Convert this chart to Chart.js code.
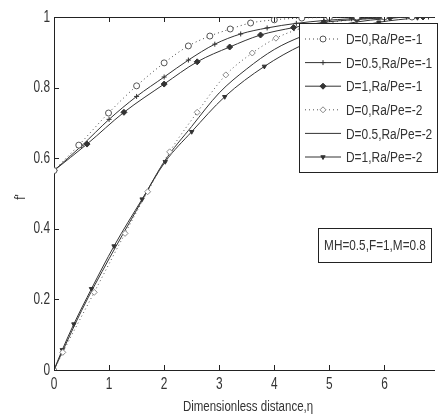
<!DOCTYPE html>
<html>
<head>
<meta charset="utf-8">
<script src="https://cdn.jsdelivr.net/npm/chart.js@4"></script>
<style>
  html, body { margin: 0; background: #fff; }
</style>
</head>
<body>
<canvas id="chart" width="439" height="416"></canvas>
<script>
// values
const labels = ["D=0,Ra/Pe=-1", "D=0.5,Ra/Pe=-1", "D=1,Ra/Pe=-1", "D=0,Ra/Pe=-2", "D=0.5,Ra/Pe=-2", "D=1,Ra/Pe=-2"];

const etaA = [0, 0.45, 0.99, 1.5, 2.0, 2.44, 2.83, 3.2, 3.57, 4.0, 4.5, 5.0, 5.5, 6.0, 6.5];
const fA   = [0.565, 0.637, 0.728, 0.805, 0.87, 0.918, 0.946, 0.966, 0.983, 0.992, 0.997, 0.999, 1.0, 1.0, 1.0];

const etaB = [0, 0.5, 1.0, 1.5, 2.0, 2.44, 2.92, 3.39, 3.87, 4.4, 4.9, 5.4, 5.9, 6.4, 6.8];
const fB   = [0.565, 0.635, 0.71, 0.775, 0.83, 0.878, 0.923, 0.952, 0.969, 0.982, 0.99, 0.995, 0.998, 1.0, 1.0];

const etaC = [0, 0.6, 1.27, 2.0, 2.6, 3.19, 3.75, 4.35, 4.9, 5.5, 6.1, 6.7];
const fC   = [0.565, 0.64, 0.73, 0.81, 0.873, 0.915, 0.949, 0.97, 0.985, 0.993, 0.998, 1.0];

const etaD = [0, 0.16, 0.73, 1.29, 1.7, 2.1, 2.6, 3.12, 3.6, 4.03, 4.5, 5.0, 5.5, 6.0, 6.5];
const fD   = [0, 0.05, 0.22, 0.387, 0.505, 0.618, 0.73, 0.836, 0.898, 0.94, 0.968, 0.984, 0.993, 0.998, 1.0];

const etaE = [0, 0.5, 1.0, 1.5, 2.0, 2.5, 3.0, 3.5, 4.0, 4.5, 5.0, 5.5, 6.0, 6.5, 6.9];
const fE   = [0, 0.168, 0.315, 0.453, 0.59, 0.69, 0.785, 0.853, 0.908, 0.945, 0.97, 0.986, 0.995, 1.0, 1.0];

const etaF = [0, 0.15, 0.36, 0.68, 1.09, 1.6, 2.02, 2.5, 3.1, 3.82, 4.5, 5.2, 5.9, 6.6];
const fF   = [0, 0.057, 0.13, 0.23, 0.351, 0.484, 0.59, 0.675, 0.774, 0.86, 0.92, 0.96, 0.985, 0.998];

const xTicks = [0, 1, 2, 3, 4, 5, 6];
const yTicks = [0, 0.2, 0.4, 0.6, 0.8, 1];
const xTitle = "Dimensionless distance,η";
const yTitle = "f'";
const note = "MH=0.5,F=1,M=0.8";

const FAMILY = "'Liberation Sans', Arial, sans-serif";
const INK = '#333';

// the original uses a condensed face, so squeeze the text horizontally
function squeezed(ctx, str, x, y, size, align, sx, rot) {
    ctx.save();
    ctx.translate(x, y);
    if (rot) ctx.rotate(rot);
    ctx.scale(sx, 1);
    ctx.font = size + 'px ' + FAMILY;
    ctx.textAlign = align;
    ctx.textBaseline = 'middle';
    ctx.fillStyle = INK;
    ctx.fillText(str, 0, 0);
    ctx.restore();
}

function pts(xs, ys) {
    return xs.map((x, i) => ({ x, y: ys[i] }));
}

function series(label, xs, ys, style) {
    return Object.assign({
        label,
        data: pts(xs, ys),
        borderColor: '#333',
        backgroundColor: '#333',
        borderWidth: 1,
        pointRadius: 3,
        pointBorderWidth: 1,
        cubicInterpolationMode: 'monotone',
        fill: false
    }, style);
}

const datasets = [
    series(labels[0], etaA, fA, { borderDash: [1, 3], pointStyle: 'circle', backgroundColor: '#fff', borderColor: '#444', pointBorderColor: '#555' }),
    series(labels[1], etaB, fB, { pointStyle: 'cross', pointRadius: 2.5 }),
    series(labels[2], etaC, fC, { pointStyle: 'rectRot', pointRadius: 3 }),
    series(labels[3], etaD, fD, { borderDash: [1, 3], pointStyle: 'rectRot', backgroundColor: '#fff', borderColor: '#555', pointBorderColor: '#888' }),
    series(labels[4], etaE, fE, { pointRadius: 0 }),
    series(labels[5], etaF, fF, { pointStyle: 'triangle', pointRotation: 180, pointRadius: 2.5 })
];

const axisDecor = {
    id: 'axisDecor',
    afterDraw(chart) {
        const ctx = chart.ctx;
        const a = chart.chartArea;
        const x = chart.scales.x, y = chart.scales.y;
        ctx.save();
        ctx.strokeStyle = '#222';
        ctx.lineWidth = 1;
        ctx.beginPath();
        xTicks.forEach(v => {
            const px = Math.round(x.getPixelForValue(v)) + 0.5;
            ctx.moveTo(px, a.bottom); ctx.lineTo(px, a.bottom - 5);
            ctx.moveTo(px, a.top); ctx.lineTo(px, a.top + 5);
        });
        yTicks.forEach(v => {
            const py = Math.round(y.getPixelForValue(v)) + 0.5;
            ctx.moveTo(a.left, py); ctx.lineTo(a.left + 5, py);
        });
        ctx.stroke();
        ctx.restore();

        xTicks.forEach(v => squeezed(ctx, String(v), x.getPixelForValue(v), a.bottom + 14, 16.5, 'center', 0.72));
        yTicks.forEach(v => squeezed(ctx, String(Number(v.toFixed(1))), a.left - 4, y.getPixelForValue(v), 16.5, 'right', 0.72));
        squeezed(ctx, xTitle, (a.left + a.right) / 2 + 4, 407, 14, 'center', 0.82);
        squeezed(ctx, yTitle, 21, 197, 15, 'center', 0.8, -Math.PI / 2);
    }
};

const boxes = {
    id: 'boxes',
    afterDraw(chart) {
        const ctx = chart.ctx;
        ctx.save();
        // legend
        const lx = 299.5, ly = 23.5, lw = 138, lh = 149;
        ctx.fillStyle = '#fff';
        ctx.fillRect(lx, ly, lw, lh);
        ctx.strokeStyle = '#222';
        ctx.lineWidth = 1;
        ctx.strokeRect(lx, ly, lw, lh);
        chart.data.datasets.forEach((ds, i) => {
            const ry = 39 + i * 23.6;
            ctx.save();
            ctx.strokeStyle = ds.borderColor;
            ctx.lineWidth = ds.borderWidth;
            ctx.setLineDash(ds.borderDash || []);
            ctx.beginPath();
            ctx.moveTo(305, ry); ctx.lineTo(341, ry);
            ctx.stroke();
            ctx.restore();
            if (ds.pointRadius > 0) {
                ctx.save();
                ctx.strokeStyle = ds.pointBorderColor || ds.borderColor;
                ctx.fillStyle = ds.backgroundColor;
                ctx.lineWidth = ds.pointBorderWidth;
                Chart.helpers.drawPoint(ctx, {
                    pointStyle: ds.pointStyle, radius: ds.pointRadius,
                    rotation: ds.pointRotation || 0, borderWidth: ds.pointBorderWidth
                }, 323, ry);
                ctx.restore();
            }
            squeezed(ctx, ds.label, 346, ry + 1, 15.5, 'left', 0.77);
        });
        // parameter box
        ctx.strokeStyle = '#222';
        ctx.strokeRect(318.5, 228.5, 113, 34);
        squeezed(ctx, note, 375, 246, 15.5, 'center', 0.76);
        ctx.restore();
    }
};

new Chart(document.getElementById('chart'), {
    type: 'line',
    data: { datasets },
    options: {
        responsive: false,
        animation: false,
        layout: { padding: 0 },
        plugins: { legend: { display: false }, tooltip: { enabled: false } },
        scales: {
            x: {
                type: 'linear', position: 'bottom', min: 0, max: 6.9,
                afterFit: s => { s.height = 46; },
                grid: { display: false },
                border: { display: true, color: '#222', width: 1 },
                ticks: { display: false }
            },
            x2: {
                type: 'linear', position: 'top', min: 0, max: 6.9,
                afterFit: s => { s.height = 17; },
                grid: { display: false },
                border: { display: true, color: '#222', width: 1 },
                ticks: { display: false }
            },
            y: {
                type: 'linear', min: 0, max: 1,
                afterFit: s => { s.width = 54; },
                grid: { display: false },
                border: { display: true, color: '#222', width: 1 },
                ticks: { display: false }
            }
        }
    },
    plugins: [axisDecor, boxes]
});
</script>
</body>
</html>
